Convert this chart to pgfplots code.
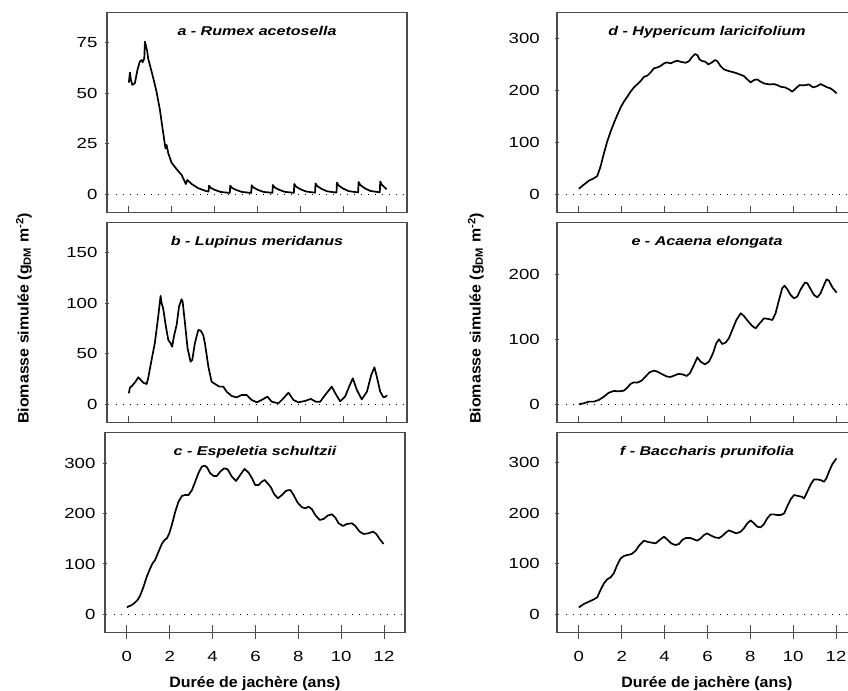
\documentclass[border=0pt]{standalone}
\usepackage{fontspec}
\setmainfont{Liberation Sans}
\newfontfamily\tickfont{Liberation Sans}[FakeStretch=1.27]
\newfontfamily\titlefont{Liberation Sans}[FakeStretch=1.26]
\newfontfamily\labelfont{Liberation Sans}[FakeStretch=1.06]
\usepackage{pgfplots}
\pgfplotsset{compat=1.18}

\definecolor{framegray}{gray}{0.3}

\pgfplotsset{
  panel/.style={
    scale only axis, width=300bp, height=200bp,
    xmin=-1.02, xmax=12.98, xtick={0,2,...,12},
    xtick pos=lower, ytick pos=left,
    axis line style={draw=framegray, line width=1.1bp},
    tick style={draw=framegray, line width=1bp},
    ytick align=center,
    ytick style={/pgfplots/major tick length=4bp},
    /pgf/number format/assume math mode=true,
    tick label style={font=\tickfont\fontsize{14.7}{16}\selectfont},
    yticklabel style={xshift=-4bp},
    every axis title/.style={at={(axis description cs:0.5,0.883)}, anchor=base,
      font=\titlefont\fontsize{12.8}{15}\selectfont\bfseries\itshape},
    label style={font=\labelfont\fontsize{15.1}{17}\selectfont\bfseries},
  },
  upper/.style={xticklabels={}, xtick align=inside,
    xtick style={/pgfplots/major tick length=6.7bp}},
  lower/.style={xtick align=center,
    xtick style={/pgfplots/major tick length=13.7bp},
    xticklabel style={yshift=-13.5bp},
    xlabel={Durée de jachère (ans)},
    xlabel style={at={(axis description cs:0.5,-0.255)}, anchor=center}},
  right col/.style={yticklabel style={xshift=-7.6bp}},
  curve/.style={black, line width=1.7bp, line join=round, no marks},
  zero/.style={black, line width=1.3bp, dash pattern=on 1.3bp off 5.7bp, no marks},
}

\begin{document}
\begin{tikzpicture}

% a - Rumex acetosella
\begin{axis}[panel, upper, at={(107bp,-12.3bp)}, anchor=north west,
  ymin=-8.9, ymax=90, ytick={0,25,50,75},
  title={a - Rumex acetosella}]
\addplot[zero] coordinates {(-0.62,0) (12.98,0)};
\addplot[curve] coordinates {
(0,55.2) (0.05,60.2) (0.09,56.9) (0.16,54.1) (0.28,54.9) (0.4,61.5) (0.51,65.6)
(0.59,66.4) (0.64,65.3) (0.72,67.2) (0.75,75.5) (0.79,73.8) (0.86,70.5) (0.9,67.2)
(0.98,64) (1.14,57.4) (1.29,50.8) (1.45,41.7) (1.56,33.5) (1.65,26.9) (1.71,22.7)
(1.76,24.4) (1.84,20.3) (1.99,15.7) (2.23,12.4) (2.46,9.6) (2.66,5.1) (2.73,7.1)
(2.93,5.1) (3.24,3.0) (3.55,1.8) (3.72,1.3)
(3.74,4.3) (3.82,3.2) (4.02,2.15) (4.29,1.16) (4.71,0.69)
(4.73,4.3) (4.81,3.2) (5.01,2.15) (5.28,1.16) (5.71,0.69)
(5.73,4.5) (5.81,3.4) (6.01,2.25) (6.28,1.2) (6.70,0.72)
(6.72,4.6) (6.80,3.45) (7.00,2.3) (7.27,1.24) (7.70,0.74)
(7.72,5.1) (7.80,3.8) (8.00,2.55) (8.27,1.38) (8.69,0.82)
(8.71,5.4) (8.79,4.05) (8.99,2.7) (9.26,1.46) (9.69,0.86)
(9.71,5.8) (9.79,4.35) (9.99,2.9) (10.26,1.57) (10.70,0.93)
(10.72,6.1) (10.80,4.6) (11.00,3.05) (11.27,1.65) (11.71,0.98)
(11.73,6.3) (11.81,4.7) (12.03,2.5)
};
\end{axis}

% b - Lupinus meridanus
\begin{axis}[panel, upper, at={(107bp,-222.3bp)}, anchor=north west,
  ymin=-17.8, ymax=180, ytick={0,50,100,150},
  title={b - Lupinus meridanus},
  ylabel={Biomasse simulée (g\textsubscript{DM} m\textsuperscript{-2})},
  ylabel style={at={(axis description cs:-0.277,0.52)}, anchor=center}]
\addplot[zero] coordinates {(-0.62,0) (12.98,0)};
\addplot[curve] coordinates {
(0,10.9) (0.05,16.5) (0.16,18.5) (0.31,22.4) (0.44,26.7) (0.53,24.7) (0.67,21.4)
(0.83,20.1) (0.9,25.7) (1.06,43.9) (1.21,60.3) (1.37,86.7) (1.48,107.2) (1.53,99.9)
(1.6,95) (1.73,76.8) (1.84,63.6) (1.95,60.3) (2.02,57) (2.1,66.9) (2.23,78.5)
(2.34,96.6) (2.46,103.9) (2.51,101.5) (2.62,80.1) (2.74,55.4) (2.88,42.2) (2.96,43.9)
(3.08,60.3) (3.24,73.5) (3.35,72.9) (3.47,68.6) (3.55,60.3) (3.71,37.3) (3.86,22.4)
(4.02,20.1) (4.1,19.1) (4.22,17.5) (4.41,17.5) (4.56,12.5) (4.8,8.2) (5.03,6.9)
(5.26,9.2) (5.5,9.2) (5.73,4.3) (5.97,2.0) (6.2,4.3) (6.46,7.6) (6.67,2.6)
(6.98,1.0) (7.21,5.9) (7.45,11.5) (7.68,4.3) (7.91,2.0) (8.22,3.3) (8.49,5.3)
(8.72,2.6) (8.93,2.6) (9.16,9.2) (9.47,17.5) (9.66,9.9) (9.86,3.0) (10.09,7.6)
(10.28,17.5) (10.45,25.7) (10.64,14.2) (10.87,4.9) (11.11,12.5) (11.31,29)
(11.46,36.6) (11.57,27.4) (11.73,12.5) (11.88,6.9) (11.99,7.6) (12.04,9.2)
};
\end{axis}

% c - Espeletia schultzii
\begin{axis}[panel, lower, at={(105bp,-432.3bp)}, anchor=north west,
  ymin=-35.8, ymax=361.6, ytick={0,100,200,300},
  title={c - Espeletia schultzii}]
\addplot[zero] coordinates {(-0.62,0) (12.98,0)};
\addplot[curve] coordinates {
(0,13.9) (0.23,18.5) (0.39,23.8) (0.5,28.5) (0.62,37.1) (0.78,55) (0.93,74.8)
(1.09,91.4) (1.2,101.3) (1.32,108) (1.48,124.5) (1.63,139.7) (1.76,147.7) (1.87,151)
(1.98,160.9) (2.1,177.5) (2.26,204) (2.41,223.9) (2.57,235.1) (2.72,237.1) (2.88,237.1)
(3.04,247) (3.19,263.6) (3.35,281.5) (3.5,293.4) (3.63,295.4) (3.74,292.1) (3.89,280.2)
(4.05,274.9) (4.2,274.9) (4.36,283.5) (4.54,290.1) (4.7,288.1) (4.9,273.5) (5.1,264.9)
(5.29,276.8) (5.49,288.8) (5.68,281.5) (5.84,270.2) (5.99,257) (6.15,257) (6.3,263.6)
(6.43,266.9) (6.57,260.3) (6.72,252.3) (6.88,238.4) (7.05,230.5) (7.24,237.1)
(7.44,245.7) (7.63,247) (7.78,237.1) (7.97,221.9) (8.17,212.6) (8.33,210.6)
(8.48,213.9) (8.64,208.6) (8.79,197.4) (9,187.4) (9.18,189.4) (9.37,196) (9.57,198.7)
(9.73,192.1) (9.88,180.8) (10.09,175.5) (10.27,179.5) (10.51,180.8) (10.66,175.5)
(10.86,164.3) (11.05,159.6) (11.28,160.9) (11.49,164.3) (11.64,159.6) (11.83,147.7)
(11.98,139.7)
};
\end{axis}

% d - Hypericum laricifolium
\begin{axis}[panel, upper, right col, at={(557bp,-12.3bp)}, anchor=north west,
  ymin=-34.7, ymax=351.4, ytick={0,100,200,300},
  title={d - Hypericum laricifolium}]
\addplot[zero] coordinates {(-0.62,0) (12.98,0)};
\addplot[curve] coordinates {
(0,10.9) (0.23,18.6) (0.47,26.4) (0.7,30.9) (0.86,35.4) (1.01,53.4) (1.17,79.1)
(1.32,101.6) (1.48,120.9) (1.63,137) (1.79,153) (1.95,167.8) (2.1,178.8) (2.26,188.4)
(2.41,198.1) (2.57,206.4) (2.72,212.2) (2.88,218.6) (3.04,227) (3.19,228.9)
(3.35,235.4) (3.5,243.1) (3.66,245) (3.81,247.6) (3.97,252.7) (4.12,254.7)
(4.28,252.7) (4.44,255.9) (4.59,257.9) (4.75,255.9) (4.98,254) (5.14,257.2)
(5.29,265.6) (5.42,270.7) (5.53,268.8) (5.63,260.5) (5.76,257.2) (5.91,255.9)
(6.04,250.8) (6.19,254) (6.35,259.2) (6.46,257.2) (6.61,247.6) (6.77,241.2) (7,237.9)
(7.24,235.4) (7.47,232.2) (7.7,228.3) (7.86,221.9) (8.02,216.1) (8.17,220.6)
(8.33,221.9) (8.48,217.4) (8.64,214.1) (8.79,212.9) (8.95,212.2) (9.1,212.9)
(9.26,210.9) (9.42,207.7) (9.62,206.4) (9.81,202.6) (9.96,198.1) (10.12,204.5)
(10.3,210.9) (10.51,210.3) (10.74,212.2) (10.93,206.4) (11.13,209) (11.28,212.9)
(11.44,209.6) (11.6,206.4) (11.75,204.5) (11.91,199.4) (12.03,194.9)
};
\end{axis}

% e - Acaena elongata
\begin{axis}[panel, upper, right col, at={(557bp,-222.3bp)}, anchor=north west,
  ymin=-27.7, ymax=280, ytick={0,100,200},
  title={e - Acaena elongata},
  ylabel={Biomasse simulée (g\textsubscript{DM} m\textsuperscript{-2})},
  ylabel style={at={(axis description cs:-0.27,0.52)}, anchor=center}]
\addplot[zero] coordinates {(-0.62,0) (12.98,0)};
\addplot[curve] coordinates {
(0,0) (0.23,1.5) (0.47,4.1) (0.7,4.1) (0.93,6.7) (1.17,11.8) (1.4,17.9) (1.63,20.5)
(1.87,20) (2.1,21) (2.26,25.6) (2.41,31.3) (2.57,33.8) (2.72,33.3) (2.93,36.4)
(3.11,42.6) (3.3,49.2) (3.5,51.8) (3.66,50.3) (3.89,46.2) (4.12,42.6) (4.28,42.1)
(4.44,44.1) (4.64,46.7) (4.82,46.2) (5.03,43.6) (5.18,47.7) (5.37,60.5) (5.53,72.3)
(5.68,65.6) (5.88,61.5) (6.07,65.6) (6.26,78.5) (6.41,93.8) (6.54,100) (6.69,92.8)
(6.85,94.9) (7,101.5) (7.16,114.4) (7.35,129.7) (7.55,140) (7.7,135.9) (7.91,127.2)
(8.09,120.5) (8.25,116.9) (8.44,124.6) (8.64,132.3) (8.84,131.3) (9.03,129.7)
(9.18,140) (9.34,160.5) (9.49,178.5) (9.6,182.6) (9.73,176.9) (9.88,168.2)
(10.04,163.1) (10.19,165.6) (10.35,176.9) (10.55,187.2) (10.66,186.2) (10.82,176.9)
(10.97,168.2) (11.13,164.6) (11.28,170.8) (11.44,183.6) (11.56,192.3) (11.67,190.3)
(11.83,180) (12.03,171.8)
};
\end{axis}

% f - Baccharis prunifolia
\begin{axis}[panel, lower, right col, at={(557bp,-432.3bp)}, anchor=north west,
  ymin=-35.6, ymax=360.2, ytick={0,100,200,300},
  title={f - Baccharis prunifolia}]
\addplot[zero] coordinates {(-0.62,0) (12.98,0)};
\addplot[curve] coordinates {
(0,13.8) (0.23,20.4) (0.47,25) (0.7,29.7) (0.86,33.6) (1.01,48.1) (1.17,61.3)
(1.32,69.2) (1.48,73.2) (1.63,81.1) (1.79,97.6) (1.95,110.7) (2.1,115.4) (2.26,117.3)
(2.46,119.3) (2.65,125.9) (2.83,137.1) (3.04,145.7) (3.24,143) (3.42,141.7)
(3.58,140.4) (3.77,147) (3.97,153.6) (4.12,148.3) (4.31,140.4) (4.51,137.1)
(4.67,139.1) (4.82,147) (4.98,151) (5.21,151) (5.37,148.3) (5.53,145.7) (5.68,150.3)
(5.84,156.9) (5.99,160.2) (6.15,156.2) (6.35,152.3) (6.54,151) (6.69,154.9)
(6.85,161.5) (7,166.1) (7.16,163.5) (7.35,160.2) (7.55,163.5) (7.7,170.1) (7.86,180)
(8.02,185.9) (8.17,180) (8.33,173.4) (8.48,172) (8.64,178.6) (8.79,189.9) (8.95,197.8)
(9.1,197.8) (9.26,196.4) (9.42,196.4) (9.58,199.7) (9.73,214.2) (9.88,227.4)
(10.04,236) (10.19,234.7) (10.4,232.7) (10.51,229.4) (10.66,242.6) (10.82,257.1)
(10.97,267) (11.13,267) (11.28,265.7) (11.44,262.4) (11.55,269) (11.67,282.1)
(11.83,297.3) (12.02,308.5)
};
\end{axis}

\pgfresetboundingbox
\path[use as bounding box] (0bp,0bp) rectangle (848bp,-691bp);
\end{tikzpicture}
\end{document}
